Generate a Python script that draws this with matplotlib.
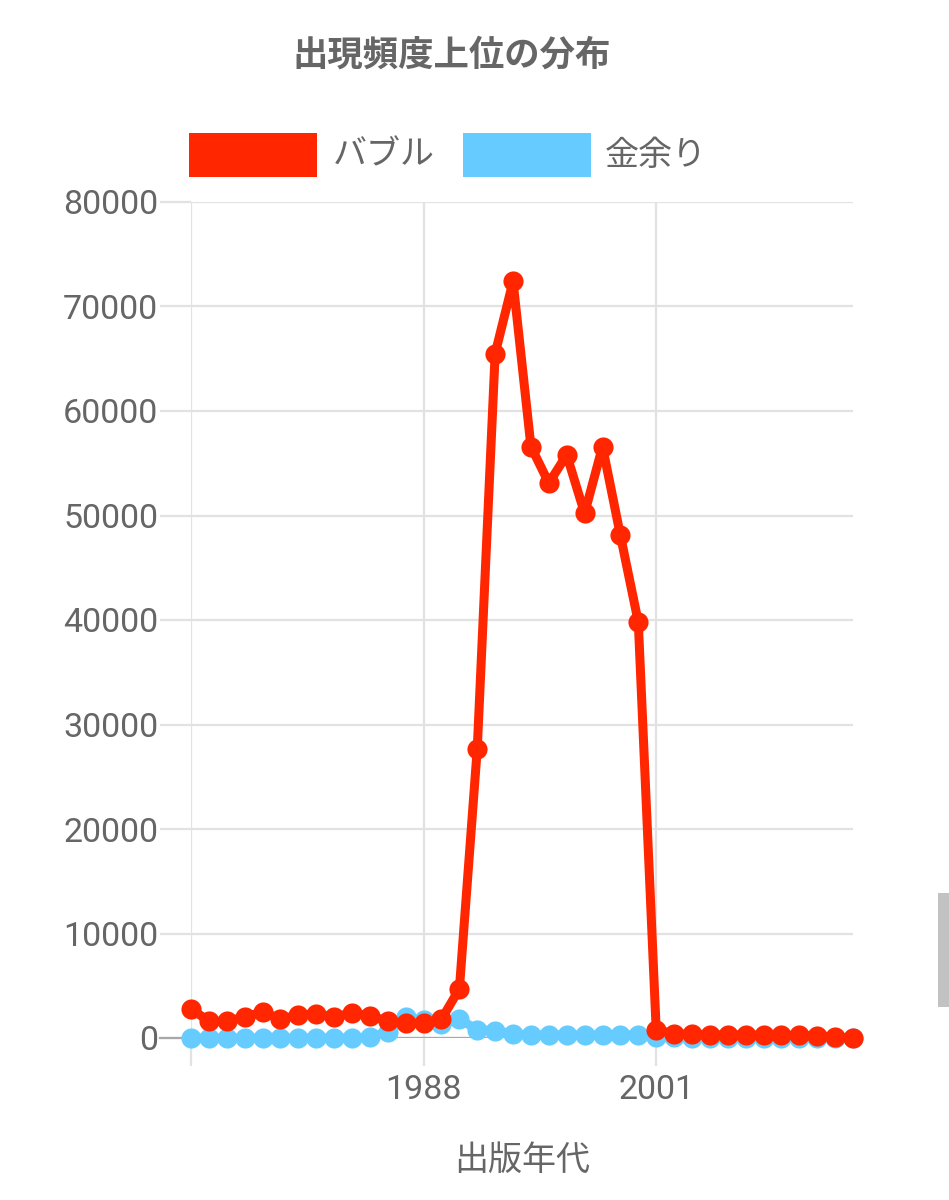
import numpy as np
import matplotlib
matplotlib.use("Agg")
import matplotlib.pyplot as plt
from matplotlib.patches import Rectangle

# ---------------- data ----------------
years = list(range(1975, 2013))
bubble = [2800, 1600, 1600, 2000, 2500, 1800, 2200, 2300, 2000, 2400,
          2100, 1600, 1400, 1400, 1800, 4700, 27700, 65500, 72400, 56600,
          53100, 55800, 50200, 56600, 48100, 39800, 800, 400, 350, 300,
          300, 300, 250, 250, 250, 200, 100, 0]
kaneamari = [0, 0, 0, 0, 0, 0, 0, 0, 0, 0,
             100, 600, 2000, 1700, 1300, 1800, 800, 700, 400, 300,
             300, 300, 300, 300, 300, 300, 100, 50, 0, 0,
             0, 0, 0, 0, 0, 0, 0, 0]
series_names = ["バブル", "金余り"]
title = "出現頻度上位の分布"
xlabel = "出版年代"
y_ticks = list(range(0, 80001, 10000))
x_grid_years = [1975, 1988, 2001]
x_tick_labels = ["", "1988", "2001"]

RED = "#ff2600"
BLUE = "#66ccff"
GRAY = "#666666"
GRID = "#e2e2e2"
JP = ["Noto Sans CJK JP", "DejaVu Sans"]
NUM = ["Roboto", "DejaVu Sans"]

W, H = 949, 1200
fig = plt.figure(figsize=(W / 100, H / 100), dpi=100)

def fx(px):
    return px / W

def fy(py):
    return 1 - py / H

ax_l, ax_r, ax_t, ax_b = 191, 853, 202, 1038
ax = fig.add_axes([fx(ax_l), fy(ax_b), fx(ax_r - ax_l), (ax_b - ax_t) / H])
ax.set_xlim(years[0], years[-1])
ax.set_ylim(0, 80000)
for s in ax.spines.values():
    s.set_visible(False)

# ticks
ax.set_yticks(y_ticks)
ax.set_yticklabels([str(v) for v in y_ticks])
ax.set_xticks(x_grid_years)
ax.set_xticklabels(x_tick_labels)
ax.tick_params(axis="y", length=22, width=1.6, color=GRID, pad=1.5,
               labelsize=24.5, labelcolor=GRAY)
ax.tick_params(axis="x", length=20, width=1.6, color=GRID, pad=6,
               labelsize=24.5, labelcolor=GRAY)
for lab in ax.get_xticklabels() + ax.get_yticklabels():
    lab.set_family(NUM)
ax.grid(True, color=GRID, linewidth=1.6, zorder=0)
ax.set_axisbelow(True)
# zero line darker
ax.axhline(0, color="#a8a8a8", linewidth=1.6, zorder=1)
ax.plot([-31 / (ax_r - ax_l), 0], [0, 0], transform=ax.transAxes,
        color="#a8a8a8", linewidth=1.6, clip_on=False, zorder=1)

# series (dataset 0 drawn on top)
ax.plot(years, kaneamari, color=BLUE, linewidth=6.5, marker="o",
        markersize=14.5, markeredgewidth=0, solid_joinstyle="round",
        clip_on=False, zorder=3)
ax.plot(years, bubble, color=RED, linewidth=6.5, marker="o",
        markersize=14.5, markeredgewidth=0, solid_joinstyle="round",
        clip_on=False, zorder=5)

# title
fig.text(fx(452), fy(55), title, ha="center", va="center", fontsize=25.5,
         fontweight="bold", color=GRAY, family=JP)

# legend
for (x0, x1, tx), name, col in zip([(189, 317, 333), (463, 591, 605)],
                                   series_names, [RED, BLUE]):
    fig.patches.append(Rectangle((fx(x0), fy(177)), fx(x1 - x0), 44 / H,
                                 transform=fig.transFigure, facecolor=col,
                                 edgecolor=col, linewidth=0))
    fig.text(fx(tx), fy(155), name, ha="left", va="center", fontsize=24.5,
             color=GRAY, family=JP)

# x axis label
fig.text(fx(522), fy(1160), xlabel, ha="center", va="center", fontsize=24.5,
         color=GRAY, family=JP)

# scrollbar artifact at right edge
fig.patches.append(Rectangle((fx(938), fy(1007)), fx(11), 114 / H,
                             transform=fig.transFigure, facecolor="#c2c2c2",
                             edgecolor="none"))

fig.savefig("out.png", dpi=100, facecolor="white")
